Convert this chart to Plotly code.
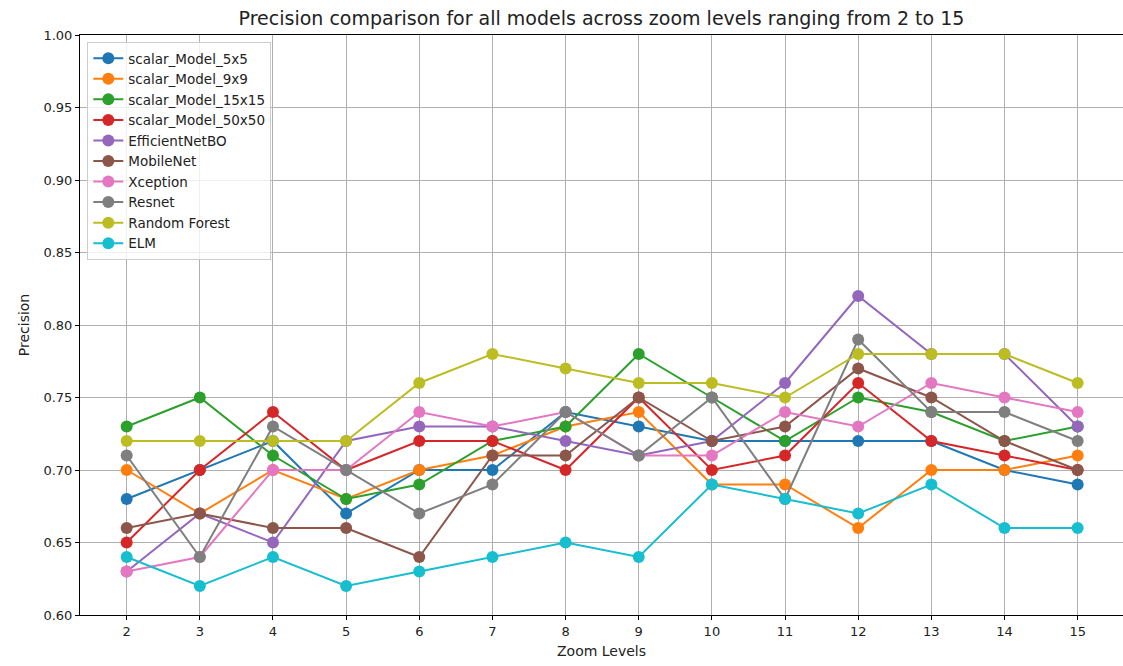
import plotly.graph_objects as go

zoom_levels = [2, 3, 4, 5, 6, 7, 8, 9, 10, 11, 12, 13, 14, 15]

scalar_5x5 = [0.68, 0.70, 0.72, 0.67, 0.70, 0.70, 0.74, 0.73, 0.72, 0.72, 0.72, 0.72, 0.70, 0.69]
scalar_9x9 = [0.70, 0.67, 0.70, 0.68, 0.70, 0.71, 0.73, 0.74, 0.69, 0.69, 0.66, 0.70, 0.70, 0.71]
scalar_15x15 = [0.73, 0.75, 0.71, 0.68, 0.69, 0.72, 0.73, 0.78, 0.75, 0.72, 0.75, 0.74, 0.72, 0.73]
scalar_50x50 = [0.65, 0.70, 0.74, 0.70, 0.72, 0.72, 0.70, 0.75, 0.70, 0.71, 0.76, 0.72, 0.71, 0.70]
efficientnet = [0.63, 0.67, 0.65, 0.72, 0.73, 0.73, 0.72, 0.71, 0.72, 0.76, 0.82, 0.78, 0.78, 0.73]
mobilenet = [0.66, 0.67, 0.66, 0.66, 0.64, 0.71, 0.71, 0.75, 0.72, 0.73, 0.77, 0.75, 0.72, 0.70]
xception = [0.63, 0.64, 0.70, 0.70, 0.74, 0.73, 0.74, 0.71, 0.71, 0.74, 0.73, 0.76, 0.75, 0.74]
resnet = [0.71, 0.64, 0.73, 0.70, 0.67, 0.69, 0.74, 0.71, 0.75, 0.68, 0.79, 0.74, 0.74, 0.72]
random_forest = [0.72, 0.72, 0.72, 0.72, 0.76, 0.78, 0.77, 0.76, 0.76, 0.75, 0.78, 0.78, 0.78, 0.76]
elm = [0.64, 0.62, 0.64, 0.62, 0.63, 0.64, 0.65, 0.64, 0.69, 0.68, 0.67, 0.69, 0.66, 0.66]

series_names = ["scalar_Model_5x5", "scalar_Model_9x9", "scalar_Model_15x15", "scalar_Model_50x50",
                "EfficientNetBO", "MobileNet", "Xception", "Resnet", "Random Forest", "ELM"]
series_values = [scalar_5x5, scalar_9x9, scalar_15x15, scalar_50x50, efficientnet,
                 mobilenet, xception, resnet, random_forest, elm]
colors = ["#1f77b4", "#ff7f0e", "#2ca02c", "#d62728", "#9467bd",
          "#8c564b", "#e377c2", "#7f7f7f", "#bcbd22", "#17becf"]

y_ticks = [0.60, 0.65, 0.70, 0.75, 0.80, 0.85, 0.90, 0.95, 1.00]

fig = go.Figure()
for name, vals, c in zip(series_names, series_values, colors):
    fig.add_trace(go.Scatter(
        x=zoom_levels, y=vals, name=name, mode="lines+markers",
        line=dict(color=c, width=2),
        marker=dict(color=c, size=12),
    ))

font_family = "DejaVu Sans"
fig.update_layout(
    width=1123, height=666,
    margin=dict(l=80, r=0, t=35, b=51),
    paper_bgcolor="white", plot_bgcolor="white",
    font=dict(family=font_family, size=13, color="#222"),
    title=dict(text="Precision comparison for all models across zoom levels ranging from 2 to 15",
               x=0.5, xanchor="center", xref="paper", y=1 - 18 / 666, yanchor="middle",
               font=dict(size=19, color="#222")),
    showlegend=True,
    legend=dict(x=0.007, y=0.988, xanchor="left", yanchor="top",
                bgcolor="rgba(255,255,255,0.8)", bordercolor="#cccccc", borderwidth=1,
                font=dict(size=13.5, color="#222"), tracegroupgap=0, itemwidth=30),
)
fig.update_xaxes(
    range=[1.362, 15.62], tickmode="array", tickvals=zoom_levels,
    ticktext=[str(z) for z in zoom_levels],
    showgrid=True, gridcolor="#b0b0b0", gridwidth=1,
    showline=True, linecolor="black", linewidth=1, mirror=True,
    ticks="outside", ticklen=4, tickcolor="black",
    title=dict(text="Zoom Levels", font=dict(size=14), standoff=8),
    zeroline=False,
)
fig.update_yaxes(
    range=[0.60, 1.00], tickmode="array", tickvals=y_ticks,
    ticktext=[f"{v:.2f}" for v in y_ticks],
    showgrid=True, gridcolor="#b0b0b0", gridwidth=1,
    showline=True, linecolor="black", linewidth=1,
    ticks="outside", ticklen=4, tickcolor="black",
    title=dict(text="Precision", font=dict(size=14), standoff=10),
    zeroline=False,
)

fig.write_html("out.html")
